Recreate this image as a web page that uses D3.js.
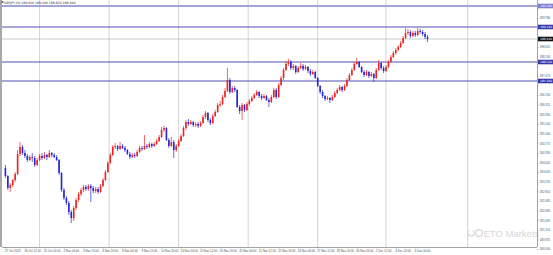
<!DOCTYPE html>
<html>
<head>
<meta charset="utf-8">
<script src="https://cdn.jsdelivr.net/npm/d3@7"></script>
<style>
  html, body { margin: 0; padding: 0; background: #fff; }
  svg { display: block; font-family: Tahoma, "DejaVu Sans", sans-serif; }
</style>
</head>
<body>
<div class="canvas"></div>
<script>
// symbol + bars (H4)
const symbol = 'GBPJPY,H4';

const opens = [
  183.78, 183.46, 182.98, 183.10, 183.30, 183.54, 184.34, 184.62, 184.38, 184.26,
  184.10, 184.22, 184.18, 183.90, 184.10, 184.26, 184.18, 184.30, 184.22, 184.38,
  184.30, 184.22, 184.10, 183.58, 182.90, 182.58, 182.38, 182.02, 181.78, 182.18,
  182.50, 182.74, 182.90, 183.02, 182.94, 183.06, 182.98, 182.86, 182.94, 182.82,
  183.06, 183.30, 183.62, 183.98, 184.30, 184.62, 184.66, 184.54, 184.66, 184.58,
  184.50, 184.34, 184.22, 184.30, 184.26, 184.42, 184.58, 184.54, 184.66, 184.62,
  184.74, 184.66, 184.74, 184.86, 185.02, 185.30, 185.38, 184.90, 184.66, 184.82,
  184.50, 184.66, 184.86, 185.06, 185.38, 185.62, 185.54, 185.62, 185.50, 185.54,
  185.46, 185.58, 185.82, 185.98, 185.70, 185.58, 185.86, 186.02, 186.30, 186.34,
  186.62, 186.86, 187.30, 186.82, 186.98, 186.90, 186.22, 186.06, 186.30, 186.10,
  186.34, 186.46, 186.58, 186.70, 186.82, 186.66, 186.58, 186.66, 186.50, 186.42,
  186.62, 186.90, 186.62, 187.10, 187.38, 187.70, 187.94, 188.02, 187.78, 187.86,
  187.62, 187.78, 187.86, 187.74, 187.82, 187.66, 187.54, 187.62, 187.38, 187.06,
  186.82, 186.66, 186.54, 186.58, 186.50, 186.62, 186.78, 186.90, 187.02, 186.90,
  187.06, 187.30, 187.50, 187.70, 187.94, 188.02, 187.82, 187.62, 187.50, 187.62,
  187.46, 187.54, 187.38, 187.70, 187.98, 187.78, 187.66, 187.82, 188.02, 188.22,
  188.38, 188.50, 188.62, 188.78, 188.98, 189.18, 189.22, 189.06, 189.18, 189.10,
  189.26, 189.22, 189.14, 189.02
];
const highs = [
  183.90, 183.50, 183.18, 183.34, 183.62, 184.50, 184.82, 184.70, 184.50, 184.34,
  184.30, 184.38, 184.26, 184.18, 184.34, 184.38, 184.42, 184.34, 184.50, 184.42,
  184.38, 184.30, 184.14, 183.62, 182.98, 182.66, 182.46, 182.10, 182.26, 182.58,
  182.82, 182.98, 183.10, 183.10, 183.14, 183.14, 183.06, 183.02, 183.02, 183.14,
  183.38, 183.70, 184.06, 184.38, 184.70, 184.78, 184.70, 184.82, 184.74, 184.66,
  184.54, 184.42, 184.38, 184.38, 184.50, 184.66, 184.66, 185.10, 184.74, 184.82,
  184.78, 184.82, 184.94, 185.10, 185.42, 185.46, 185.42, 184.98, 185.02, 184.90,
  184.74, 184.94, 185.14, 185.46, 185.70, 185.74, 185.70, 185.66, 185.62, 185.62,
  185.66, 185.90, 186.06, 186.02, 185.78, 185.94, 186.10, 186.38, 186.46, 186.70,
  186.98, 187.78, 187.38, 187.06, 187.06, 186.94, 186.30, 186.38, 186.34, 186.42,
  186.54, 186.66, 186.78, 186.90, 186.86, 186.74, 186.74, 186.70, 186.58, 186.70,
  186.98, 186.98, 187.18, 187.46, 187.78, 188.06, 188.14, 188.10, 187.94, 187.90,
  187.86, 187.98, 187.94, 187.90, 187.86, 187.74, 187.70, 187.66, 187.42, 187.10,
  186.90, 186.70, 186.66, 186.62, 186.70, 186.86, 186.98, 187.10, 187.06, 187.14,
  187.38, 187.58, 187.78, 188.02, 188.18, 188.06, 187.86, 187.70, 187.70, 187.66,
  187.62, 187.58, 187.78, 188.10, 188.02, 187.86, 187.90, 188.10, 188.30, 188.46,
  188.58, 188.70, 188.86, 189.06, 189.38, 189.34, 189.30, 189.26, 189.26, 189.38,
  189.34, 189.30, 189.22, 189.10
];
const lows = [
  183.38, 182.90, 182.82, 183.02, 183.22, 183.50, 184.26, 184.30, 184.18, 184.02,
  184.06, 184.02, 183.82, 183.86, 184.06, 184.10, 184.14, 184.10, 184.18, 184.22,
  184.18, 184.06, 183.50, 182.82, 182.50, 182.30, 181.90, 181.58, 181.66, 182.10,
  182.42, 182.66, 182.82, 182.86, 182.86, 182.42, 182.78, 182.78, 182.74, 182.78,
  183.02, 183.26, 183.58, 183.94, 184.26, 184.54, 184.46, 184.50, 184.54, 184.42,
  184.30, 184.14, 184.18, 184.18, 184.22, 184.38, 184.46, 184.50, 184.54, 184.58,
  184.58, 184.62, 184.70, 184.82, 184.98, 185.22, 184.86, 184.58, 184.62, 184.18,
  184.42, 184.62, 184.82, 185.02, 185.30, 185.46, 185.50, 185.42, 185.42, 185.38,
  185.42, 185.54, 185.74, 185.62, 185.50, 185.54, 185.82, 185.98, 186.22, 186.30,
  186.58, 186.82, 186.74, 186.78, 186.82, 186.18, 185.94, 185.70, 186.02, 186.06,
  186.26, 186.42, 186.54, 186.66, 186.58, 186.50, 186.54, 186.46, 186.22, 186.38,
  186.58, 186.54, 186.58, 187.06, 187.30, 187.66, 187.86, 187.70, 187.70, 187.54,
  187.58, 187.74, 187.66, 187.70, 187.58, 187.46, 187.50, 187.34, 187.02, 186.74,
  186.58, 186.46, 186.50, 186.38, 186.46, 186.58, 186.74, 186.86, 186.82, 186.86,
  187.02, 187.26, 187.46, 187.66, 187.90, 187.78, 187.58, 187.42, 187.46, 187.38,
  187.42, 187.22, 187.34, 187.66, 187.70, 187.58, 187.62, 187.78, 187.98, 188.18,
  188.30, 188.46, 188.58, 188.74, 188.94, 189.10, 188.98, 189.02, 189.02, 189.06,
  189.14, 189.06, 188.94, 188.82
];
const closes = [
  183.46, 182.98, 183.10, 183.30, 183.54, 184.34, 184.62, 184.38, 184.26, 184.10,
  184.22, 184.18, 183.90, 184.10, 184.26, 184.18, 184.30, 184.22, 184.38, 184.30,
  184.22, 184.10, 183.58, 182.90, 182.58, 182.38, 182.02, 181.78, 182.18, 182.50,
  182.74, 182.90, 183.02, 182.94, 183.06, 182.98, 182.86, 182.94, 182.82, 183.06,
  183.30, 183.62, 183.98, 184.30, 184.62, 184.66, 184.54, 184.66, 184.58, 184.50,
  184.34, 184.22, 184.30, 184.26, 184.42, 184.58, 184.54, 184.66, 184.62, 184.74,
  184.66, 184.74, 184.86, 185.02, 185.30, 185.38, 184.90, 184.66, 184.82, 184.50,
  184.66, 184.86, 185.06, 185.38, 185.62, 185.54, 185.62, 185.50, 185.54, 185.46,
  185.58, 185.82, 185.98, 185.70, 185.58, 185.86, 186.02, 186.30, 186.34, 186.62,
  186.86, 187.30, 186.82, 186.98, 186.90, 186.22, 186.06, 186.30, 186.10, 186.34,
  186.46, 186.58, 186.70, 186.82, 186.66, 186.58, 186.66, 186.50, 186.42, 186.62,
  186.90, 186.62, 187.10, 187.38, 187.70, 187.94, 188.02, 187.78, 187.86, 187.62,
  187.78, 187.86, 187.74, 187.82, 187.66, 187.54, 187.62, 187.38, 187.06, 186.82,
  186.66, 186.54, 186.58, 186.50, 186.62, 186.78, 186.90, 187.02, 186.90, 187.06,
  187.30, 187.50, 187.70, 187.94, 188.02, 187.82, 187.62, 187.50, 187.62, 187.46,
  187.54, 187.38, 187.70, 187.98, 187.78, 187.66, 187.82, 188.02, 188.22, 188.38,
  188.50, 188.62, 188.78, 188.98, 189.18, 189.22, 189.06, 189.18, 189.10, 189.26,
  189.22, 189.14, 189.02, 188.94
];

// horizontal levels drawn on the chart
const levels = [190.26, 189.42, 188.02, 187.26];

// price scale labels
const priceTicks = [
  180.540, 180.925, 181.310, 181.695, 182.080, 182.465, 182.850, 183.235, 183.620,
  184.005, 184.390, 184.775, 185.160, 185.545, 185.930, 186.315, 186.700, 187.085,
  187.470, 187.855, 188.240, 188.625, 189.010, 189.395, 189.780, 190.165
];

// time scale labels (every 8 bars)
const dateBars = [0, 8, 16, 24, 32, 40, 48, 56, 64, 72, 80, 88, 96, 104, 112, 120, 128, 136, 144, 152, 160, 168];
const dateLabels = [
  '27 Oct 2023', '30 Oct 12:00', '31 Oct 20:00', '2 Nov 04:00', '3 Nov 12:00', '6 Nov 20:00',
  '8 Nov 04:00', '9 Nov 12:00', '10 Nov 20:00', '14 Nov 04:00', '15 Nov 12:00', '16 Nov 20:00',
  '20 Nov 04:00', '21 Nov 12:00', '22 Nov 20:00', '24 Nov 04:00', '27 Nov 12:00', '28 Nov 20:00',
  '30 Nov 04:00', '1 Dec 12:00', '4 Dec 20:00', '6 Dec 04:00'
];

// vertical grid (bar positions)
const gridBars = [14, 42.5, 71, 99.5, 128, 156, 189.5];

const width = 553, height = 255;
const plot = { left: 2, right: 537, top: 0, bottom: 247 };

const data = closes.map((c, i) => ({ i, o: opens[i], h: highs[i], l: lows[i], c }));
const last = data[data.length - 1];

const svg = d3.select('.canvas').append('svg')
  .attr('width', width).attr('height', height);

const x = d3.scaleLinear().domain([0, closes.length - 1]).range([5.4, 427.5]);
const y = d3.scaleLinear().domain([180.30, 190.50]).range([255, 0]);

svg.append('defs').append('clipPath').attr('id', 'clip')
  .append('rect')
  .attr('x', plot.left).attr('y', plot.top)
  .attr('width', plot.right - plot.left).attr('height', plot.bottom - plot.top);

const chart = svg.append('g').attr('clip-path', 'url(#clip)');

// grid
chart.selectAll('line.grid').data(gridBars).enter().append('line')
  .attr('class', 'grid')
  .attr('x1', d => x(d)).attr('x2', d => x(d))
  .attr('y1', plot.top).attr('y2', plot.bottom)
  .attr('stroke', '#c9c9c9').attr('stroke-width', 0.8);

// watermark
const wm = svg.append('g').attr('fill', '#d6d6d6');
wm.append('path')
  .attr('d', d3.arc()({ innerRadius: 2.4, outerRadius: 3.6, startAngle: 0.6, endAngle: Math.PI * 2 - 0.6 }))
  .attr('transform', 'translate(471,233)');
wm.append('circle').attr('cx', 479).attr('cy', 233).attr('r', 3.4)
  .attr('fill', 'none').attr('stroke', '#d6d6d6').attr('stroke-width', 1.2);
wm.append('text').attr('x', 483.5).attr('y', 236.5)
  .attr('font-size', 9.5).attr('font-family', 'Arial, "Liberation Sans", sans-serif')
  .text('ETO Markets');

// level lines
chart.selectAll('line.level').data(levels).enter().append('line')
  .attr('class', 'level')
  .attr('x1', plot.left).attr('x2', plot.right)
  .attr('y1', d => y(d)).attr('y2', d => y(d))
  .attr('stroke', (d, i) => i === 0 ? '#a3a3dc' : '#5050b0')
  .attr('stroke-width', (d, i) => i === 0 ? 1.8 : 1);

// bid line
chart.append('line')
  .attr('x1', plot.left).attr('x2', plot.right)
  .attr('y1', y(last.c)).attr('y2', y(last.c))
  .attr('stroke', '#bdbdbd').attr('stroke-width', 0.8);

// candles
const bull = '#ec2323', bear = '#2626d6';
const candles = chart.selectAll('g.candle').data(data).enter().append('g')
  .attr('class', 'candle');
candles.append('line')
  .attr('x1', d => x(d.i)).attr('x2', d => x(d.i))
  .attr('y1', d => y(d.h)).attr('y2', d => y(d.l))
  .attr('stroke', d => d.c >= d.o ? bull : bear)
  .attr('stroke-width', 0.7);
candles.append('rect')
  .attr('x', d => x(d.i) - 0.8)
  .attr('width', 1.6)
  .attr('y', d => y(Math.max(d.o, d.c)))
  .attr('height', d => Math.max(0.6, Math.abs(y(d.o) - y(d.c))))
  .attr('fill', d => d.c >= d.o ? bull : bear);

// left frame
svg.append('line')
  .attr('x1', 1).attr('x2', 1).attr('y1', 0).attr('y2', plot.bottom)
  .attr('stroke', '#a8a8a8').attr('stroke-width', 2);

// level + bid labels on the price scale
const tags = levels.map((v, i) => ({ v, fill: i === 0 ? '#7f7fcf' : '#3a3aa6' }))
  .concat([{ v: last.c, fill: '#111' }]);

// price axis (labels hidden where a tag sits on top of them)
const yAxis = svg.append('g')
  .attr('transform', `translate(${plot.right},0)`)
  .call(d3.axisRight(y).tickValues(priceTicks).tickFormat(d3.format('.3f')).tickSize(1.5).tickPadding(1.2));
yAxis.select('.domain').attr('stroke', '#8c8c8c').attr('stroke-width', 0.8)
  .attr('d', `M0.5,0V${plot.bottom}`);
yAxis.selectAll('.tick line').attr('stroke', '#8c8c8c').attr('stroke-width', 0.6);
yAxis.selectAll('.tick text').attr('font-size', 2.9).attr('fill', '#555')
  .style('display', d => tags.some(t => Math.abs(y(t.v) - y(d)) < 5) ? 'none' : null);

// time axis
const xAxis = svg.append('g')
  .attr('transform', `translate(0,${plot.bottom})`)
  .call(d3.axisBottom(x).tickValues(dateBars).tickFormat((d, i) => dateLabels[i]).tickSize(1.5).tickPadding(1));
xAxis.select('.domain').attr('stroke', '#8c8c8c').attr('stroke-width', 0.8)
  .attr('d', `M${plot.left},0.5H${plot.right}`);
xAxis.selectAll('.tick line').attr('stroke', '#8c8c8c').attr('stroke-width', 0.6);
xAxis.selectAll('.tick text').attr('font-size', 2.9).attr('fill', '#555')
  .attr('text-anchor', 'start').attr('dx', -1);

const tag = svg.selectAll('g.tag').data(tags).enter().append('g')
  .attr('class', 'tag')
  .attr('transform', d => `translate(${plot.right + 1},${y(d.v)})`);
tag.append('rect').attr('x', 0).attr('y', -2.3).attr('width', 15).attr('height', 4.6)
  .attr('fill', d => d.fill);
tag.append('text').attr('x', 2.2).attr('y', 1.1)
  .attr('font-size', 2.9).attr('fill', '#fff')
  .text(d => d3.format('.3f')(d.v));

// header
svg.append('text').attr('x', 4).attr('y', 3.6)
  .attr('font-size', 3.1).attr('fill', '#333')
  .text(`${symbol}  ${[last.o, last.h, last.l, last.c].map(d3.format('.3f')).join(' ')}`);
svg.append('rect').attr('x', 1.5).attr('y', 1.2).attr('width', 1.8).attr('height', 1.8).attr('fill', '#5a5a5a');
</script>
</body>
</html>
